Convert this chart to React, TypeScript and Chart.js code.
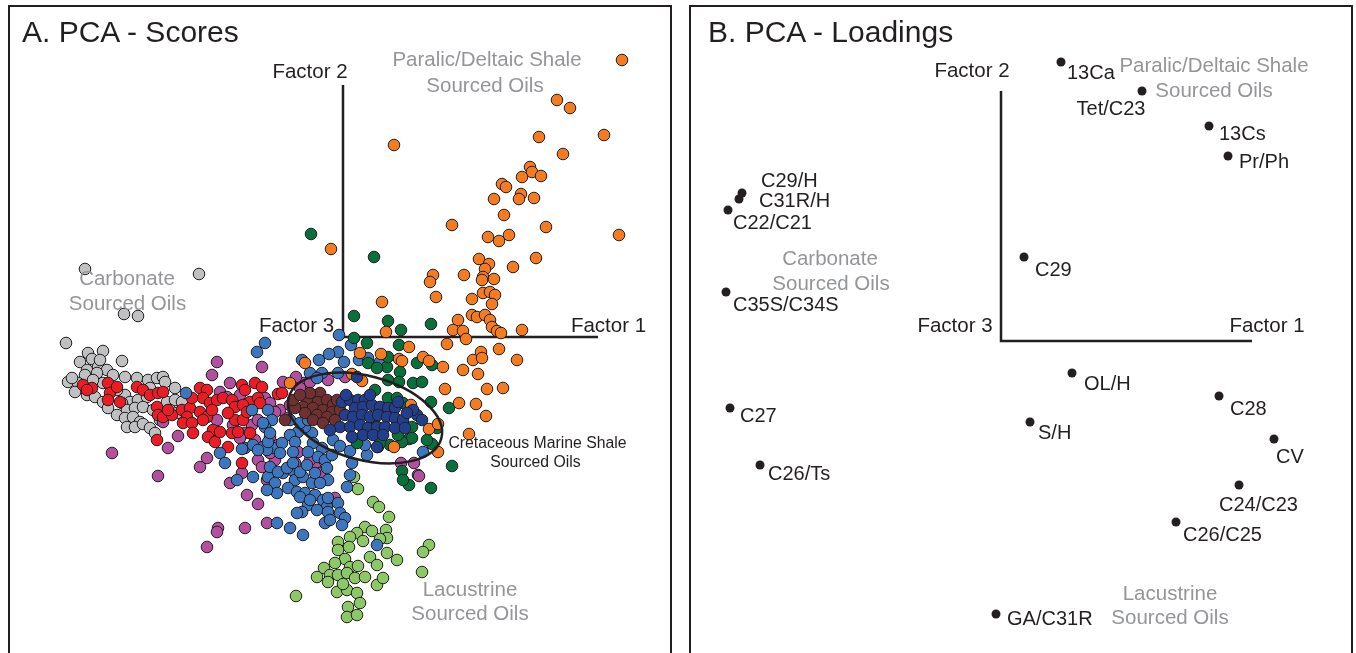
import React, { useEffect, useRef } from "react";
import { Chart, registerables } from "chart.js";

Chart.register(...registerables);

const FONT = '"Liberation Sans", Arial, Helvetica, sans-serif';
const INK = "#231f20";
const GRAY_TEXT = "#939598";

// ---------- Panel A: PCA scores (Factor 1 = x, Factor 2 = y) ----------
const paralicDeltaicScores: number[][] = [
  [2.79, 2.77], [2.14, 2.37], [2.27, 2.29], [1.96, 2.0], [2.61, 2.02], [0.51, 1.92], [2.2, 1.83],
  [1.87, 1.7], [1.89, 1.65], [1.79, 1.6], [1.98, 1.61], [1.59, 1.53], [1.63, 1.5], [1.78, 1.43],
  [1.51, 1.38], [1.76, 1.38], [1.91, 1.39], [1.61, 1.22], [1.09, 1.12], [2.03, 1.1], [2.76, 1.02],
  [1.45, 1.0], [1.56, 0.96], [1.66, 1.02], [1.93, 0.79], [1.36, 0.78], [1.46, 0.73], [1.42, 0.68],
  [1.7, 0.7], [0.9, 0.62], [0.87, 0.55], [1.21, 0.62], [1.4, 0.6], [1.39, 0.57], [1.51, 0.58],
  [0.93, 0.4], [1.29, 0.38], [1.4, 0.44], [1.47, 0.45], [1.52, 0.42], [1.49, 0.33], [1.29, 0.22],
  [1.34, 0.2], [1.42, 0.22], [1.47, 0.17], [1.49, 0.1], [1.54, 0.06], [1.58, 0.04], [1.15, 0.17],
  [1.1, 0.07], [1.2, 0.06], [1.23, -0.02], [1.79, 0.07], [1.04, -0.07], [1.38, -0.15], [1.3, -0.23],
  [1.39, -0.21], [1.56, -0.12], [1.74, -0.23], [1.0, -0.3], [1.2, -0.33], [1.35, -0.37], [0.8, -0.2],
  [0.86, -0.24], [-0.12, 0.88], [0.39, 0.35], [0.43, 0.05], [0.66, -0.1], [0.17, -0.16], [0.38, -0.17],
  [0.56, -0.22], [0.59, -0.24], [1.02, -0.52], [1.44, -0.52], [1.6, -0.51], [1.16, -0.66], [1.33, -0.67],
  [1.43, -0.79], [0.68, -0.68], [0.86, -0.92], [0.95, -0.87], [0.95, -1.15], [1.26, -0.97], [0.51, -1.1],
  [-0.53, -0.46], [-0.38, -0.26], [0.19, -0.44], [0.09, -0.37],
];

const carbonateScores: number[][] = [
  [-2.58, 0.68], [-1.44, 0.63], [-2.19, 0.23], [-2.05, 0.21], [-2.77, -0.06], [-2.55, -0.16],
  [-2.4, -0.14], [-2.63, -0.25], [-2.51, -0.22], [-2.21, -0.24], [-2.45, -0.3], [-2.36, -0.33],
  [-2.56, -0.33], [-2.46, -0.36], [-2.58, -0.38], [-2.75, -0.45], [-2.65, -0.46], [-2.4, -0.46],
  [-2.18, -0.4], [-2.06, -0.41], [-1.95, -0.43], [-1.86, -0.41], [-1.8, -0.4], [-1.78, -0.45],
  [-2.68, -0.55], [-2.56, -0.58], [-2.48, -0.6], [-2.4, -0.65], [-2.18, -0.58], [-2.26, -0.53],
  [-2.13, -0.65], [-2.05, -0.63], [-1.96, -0.6], [-2.21, -0.66], [-2.35, -0.71], [-2.16, -0.73],
  [-2.08, -0.71], [-2.0, -0.7], [-2.26, -0.78], [-2.18, -0.81], [-2.1, -0.8], [-2.03, -0.85],
  [-2.16, -0.9], [-2.08, -0.9], [-2.0, -0.87], [-1.93, -0.91], [-1.88, -0.96], [-1.68, -0.51],
  [-1.76, -0.65], [-1.68, -0.63], [-1.61, -0.65], [-1.73, -0.73], [-1.66, -0.76], [-1.9, -0.73],
  [-2.71, -0.41], [-2.5, -0.43], [-2.3, -0.38], [-2.43, -0.23], [-1.93, -0.51], [-1.83, -0.83],
];

const redScores: number[][] = [
  [-2.6, -0.48], [-2.51, -0.51], [-2.56, -0.53], [-2.35, -0.46], [-2.33, -0.56], [-2.26, -0.5],
  [-2.35, -0.63], [-2.23, -0.65], [-2.06, -0.5], [-2.0, -0.53], [-1.93, -0.58], [-1.85, -0.56],
  [-1.8, -0.55], [-1.86, -0.7], [-1.85, -0.78], [-1.8, -0.8], [-1.71, -0.78], [-1.75, -0.73],
  [-1.61, -0.73], [-1.53, -0.71], [-1.56, -0.8], [-1.6, -0.86], [-1.51, -0.86], [-1.5, -0.96],
  [-1.43, -0.75], [-1.36, -0.8], [-1.4, -0.83], [-1.86, -1.03], [-1.43, -0.51], [-1.36, -0.53],
  [-1.4, -0.61], [-1.33, -0.66], [-1.26, -0.63], [-1.2, -0.61], [-1.3, -0.93], [-1.35, -1.0],
  [-1.28, -1.05], [-1.23, -0.95], [-0.88, -0.46], [-0.81, -0.5], [-1.01, -0.48], [-0.98, -0.53],
  [-1.11, -0.63], [-0.93, -0.65], [-0.85, -0.61], [-0.65, -0.57], [-1.08, -0.7], [-1.0, -0.68],
  [-1.08, -0.83], [-1.0, -0.83], [-1.11, -0.96], [-1.01, -1.26], [-1.15, -1.1], [-1.05, -0.95],
  [-0.93, -0.96], [-1.15, -0.76], [-0.96, -0.75], [-0.83, -0.66], [-0.61, -0.56], [-1.51, -0.61],
  [-1.31, -0.73],
];

const magentaScores: number[][] = [
  [-1.26, -0.25], [-0.81, -0.3], [-1.13, -0.46], [-1.23, -0.55], [-0.6, -0.45], [-1.65, -0.99],
  [-1.75, -1.11], [-2.31, -1.16], [-1.36, -1.21], [-1.43, -1.3], [-1.8, -0.85], [-1.85, -1.39],
  [-1.1, -0.88], [-0.98, -0.96], [-1.13, -1.46], [-0.96, -1.58], [-0.85, -1.67], [-1.25, -1.91],
  [-1.26, -1.95], [-0.98, -1.91], [-0.76, -1.86], [-0.26, -1.38], [-0.28, -1.3], [-0.85, -1.23],
  [-0.68, -1.23], [-0.73, -1.16], [-1.36, -2.1], [-1.01, -1.36], [-0.81, -1.3], [-0.76, -1.43],
  [-0.15, -0.43], [0.02, -0.4], [-0.65, -1.08], [-0.08, -1.61], [0.75, -1.38], [0.58, -1.26],
  [0.71, -1.26], [0.76, -1.39], [-0.39, -0.46], [-0.47, -0.4], [-1.31, -0.38], [-1.03, -0.58],
  [-0.78, -0.61], [-0.91, -0.88], [-0.73, -1.0], [-0.88, -1.03], [-0.63, -0.73], [-0.55, -0.81],
  [-0.43, -0.51], [-0.33, -0.45], [-0.53, -0.68], [-0.73, -0.66], [-0.68, -0.75], [-0.85, -0.83],
  [-1.03, -1.01], [-0.48, -1.26], [-0.45, -1.15], [-0.33, -1.23], [-0.23, -1.36], [-1.26, -0.83],
  [-1.16, -0.6],
];

const blueScores: number[][] = [
  [-0.04, 0.02], [0.08, -0.08], [-0.05, -0.15], [-0.14, -0.17], [-0.24, -0.23], [-0.41, -0.23],
  [0.16, -0.23], [0.37, -0.25], [0.01, -0.25], [-0.33, -0.36], [-0.21, -0.36], [-0.05, -0.36],
  [0.25, -0.21], [-0.78, -0.06], [-0.86, -0.15], [-0.26, -0.41], [-1.57, -0.56], [-1.23, -1.16],
  [-1.18, -1.26], [-0.1, -1.03], [-0.03, -1.09], [0.07, -1.14], [0.24, -1.18], [0.09, -1.26],
  [-0.21, -1.11], [-0.31, -0.96], [-0.38, -0.9], [-0.3, -1.06], [-0.45, -0.95], [-0.53, -0.98],
  [-0.48, -1.05], [-0.25, -1.2], [-0.35, -1.15], [-0.18, -1.23], [-0.75, -0.73], [-0.91, -0.73],
  [-0.71, -0.83], [-0.78, -0.9], [-0.98, -1.11], [-0.9, -1.08], [-0.8, -1.1], [-0.7, -1.11],
  [-0.61, -1.06], [-0.63, -1.16], [-1.06, -1.43], [-0.9, -1.4], [-0.75, -1.4], [-0.68, -1.46],
  [-0.6, -1.36], [-0.51, -1.33], [-0.48, -1.43], [-0.4, -1.4], [-0.31, -1.46], [-0.55, -1.51],
  [-0.46, -1.55], [-0.38, -1.56], [-0.66, -1.56], [-0.76, -1.53], [-0.28, -1.58], [-0.2, -1.63],
  [-0.16, -1.7], [-0.35, -1.68], [-0.26, -1.73], [-0.41, -1.75], [-0.66, -1.86], [-0.53, -1.91],
  [-0.18, -1.86], [-0.4, -1.98], [-0.76, -1.13], [-0.5, -1.15], [-0.73, -1.3], [-0.65, -1.35],
  [-0.56, -1.31], [-0.5, -1.26], [-0.43, -1.35], [-0.36, -1.28], [-0.28, -1.36], [-0.16, -1.31],
  [-0.15, -1.43], [-0.23, -1.46], [-0.43, -1.6], [-0.33, -1.63], [-0.15, -1.61], [-0.05, -1.66],
  [-0.46, -1.76], [-0.15, -1.75], [-0.03, -1.76], [-0.13, -1.83], [0.02, -1.81], [-0.01, -1.88],
  [0.07, -1.38], [0.04, -1.5], [0.22, -1.08], [-0.11, -1.18], [0.35, -1.1], [0.8, -1.15],
  [0.34, -2.08], [-1.01, -1.12], [-0.85, -1.13], [-0.75, -1.05], [-0.73, -0.96], [-0.8, -0.86],
  [-0.53, -0.83], [-0.43, -0.86], [-0.35, -0.83],
];

const cretaceousMarineScores: number[][] = [
  [-0.01, -0.65], [0.07, -0.63], [0.15, -0.63], [0.22, -0.63], [0.12, -0.71], [0.2, -0.7],
  [0.29, -0.68], [0.37, -0.7], [0.45, -0.71], [0.52, -0.71], [0.02, -0.78], [0.1, -0.8],
  [0.19, -0.78], [0.27, -0.8], [0.35, -0.78], [0.44, -0.8], [0.52, -0.81], [0.6, -0.83],
  [-0.03, -0.9], [0.07, -0.9], [0.17, -0.88], [0.25, -0.91], [0.34, -0.9], [0.42, -0.9],
  [0.52, -0.91], [0.62, -0.91], [0.09, -1.0], [0.2, -0.98], [0.3, -0.98], [0.4, -0.98],
  [0.34, -1.1], [-0.13, -0.93], [0.74, -0.78], [0.79, -0.83], [0.7, -0.73], [0.14, -0.4],
  [0.55, -0.65], [0.64, -0.76], [0.03, -0.58], [0.27, -0.58],
];

const brownScores: number[][] = [
  [-0.23, -0.56], [-0.35, -0.63], [-0.25, -0.65], [-0.16, -0.63], [-0.1, -0.68], [-0.4, -0.7],
  [-0.3, -0.71], [-0.2, -0.73], [-0.11, -0.75], [-0.48, -0.71], [-0.38, -0.76], [-0.26, -0.78],
  [-0.16, -0.8], [-0.08, -0.83], [-0.58, -0.83], [-0.5, -0.63], [-0.03, -0.73], [-0.06, -0.63],
  [-0.3, -0.83], [-0.2, -0.86], [-0.33, -0.56], [-0.43, -0.58],
];

const greenScores: number[][] = [
  [-0.32, 1.03], [0.31, 0.8], [0.11, 0.21], [0.45, 0.16], [0.58, 0.07], [0.88, 0.13], [0.11, -0.01],
  [0.24, -0.06], [0.56, -0.08], [0.74, -0.26], [0.89, -0.28], [0.44, -0.3], [0.57, -0.35],
  [0.45, -0.2], [0.56, -0.45], [0.7, -0.46], [0.79, -0.45], [0.32, -0.53], [0.88, -0.65],
  [1.06, -0.71], [0.66, -1.02], [0.89, -1.07], [0.59, -1.34], [0.66, -1.48], [0.88, -1.51],
  [1.09, -1.29], [0.25, -0.26], [0.34, -0.31], [0.45, -0.43], [0.45, -0.61], [0.54, -0.61],
  [0.6, -0.66], [0.65, -0.7], [0.69, -0.9], [0.69, -1.01], [0.59, -1.05], [0.47, -1.08],
  [0.37, -1.06], [0.22, -0.96], [0.94, -0.91], [0.84, -1.03], [0.6, -1.43], [0.32, -0.88],
  [0.55, -0.98], [0.14, -1.06],
];

const lacustrineScores: number[][] = [
  [0.11, -1.4], [0.15, -1.52], [0.3, -1.65], [0.36, -1.7], [0.46, -1.8], [0.22, -1.9], [0.29, -1.94],
  [0.43, -1.93], [0.14, -1.96], [0.07, -2.0], [0.2, -2.04], [0.44, -2.01], [0.37, -2.02],
  [-0.05, -2.05], [0.06, -2.1], [0.44, -2.16], [0.86, -2.08], [0.8, -2.15], [0.27, -2.2],
  [0.54, -2.23], [-0.05, -2.13], [0.02, -2.22], [-0.08, -2.26], [0.07, -2.3], [0.15, -2.29],
  [0.34, -2.28], [-0.19, -2.31], [-0.26, -2.4], [-0.13, -2.38], [-0.05, -2.38], [0.04, -2.36],
  [0.12, -2.41], [0.22, -2.4], [0.34, -2.48], [0.4, -2.41], [-0.15, -2.45], [-0.06, -2.55],
  [0.04, -2.53], [0.14, -2.56], [0.17, -2.66], [0.05, -2.7], [0.04, -2.8], [0.14, -2.78],
  [0.79, -2.35], [-0.47, -2.59], [0.0, -2.47],
];

// draw order: first = on top
const scoreSeries = [
  { label: "Cretaceous Marine Shale", data: cretaceousMarineScores, color: "#223f8f" },
  { label: "Group brown", data: brownScores, color: "#70302f" },
  { label: "Paralic/Deltaic Shale", data: paralicDeltaicScores, color: "#f47b20" },
  { label: "Group dark green", data: greenScores, color: "#08703a" },
  { label: "Group blue", data: blueScores, color: "#3b76be" },
  { label: "Lacustrine", data: lacustrineScores, color: "#8dc866" },
  { label: "Group red", data: redScores, color: "#ed1c24" },
  { label: "Group magenta", data: magentaScores, color: "#b24f9f" },
  { label: "Carbonate", data: carbonateScores, color: "#bfc0c2" },
];

// ---------- Panel B: PCA loadings ----------
const loadingNames = [
  "13Ca", "Tet/C23", "13Cs", "Pr/Ph", "C29/H", "C31R/H", "C22/C21", "C35S/C34S", "C29",
  "OL/H", "C28", "C27", "S/H", "CV", "C26/Ts", "C24/C23", "C26/C25", "GA/C31R",
];
const loadingF1 = [
  0.6, 1.41, 2.08, 2.27, -2.59, -2.62, -2.73, -2.75, 0.23,
  0.71, 2.18, -2.71, 0.29, 2.73, -2.41, 2.38, 1.75, -0.05,
];
const loadingF2 = [
  2.79, 2.5, 2.15, 1.85, 1.48, 1.42, 1.31, 0.49, 0.84,
  -0.32, -0.55, -0.67, -0.81, -0.98, -1.24, -1.44, -1.81, -2.73,
];
// label placement relative to its dot (layout only)
const loadingLabelPlacement: [number, number, CanvasTextAlign][] = [
  [6, 11, "left"], [-31, 18, "center"], [10, 8, "left"], [11, 6, "left"], [19, -12, "left"],
  [20, 2, "left"], [5, 13, "left"], [7, 13, "left"], [11, 13, "left"], [12, 11, "left"],
  [11, 13, "left"], [10, 8, "left"], [8, 11, "left"], [2, 18, "left"], [8, 9, "left"],
  [-20, 20, "left"], [7, 13, "left"], [11, 5, "left"],
];

type Note = { text: string; x: number; y: number; color: string; size: number; align?: CanvasTextAlign };

const scoreNotes: Note[] = [
  { text: "Factor 2", x: -0.33, y: 2.65, color: INK, size: 20.5 },
  { text: "Factor 3", x: -0.465, y: 0.11, color: INK, size: 20.5 },
  { text: "Factor 1", x: 2.655, y: 0.11, color: INK, size: 20.5 },
  { text: "Paralic/Deltaic Shale", x: 1.44, y: 2.77, color: GRAY_TEXT, size: 20.5 },
  { text: "Sourced Oils", x: 1.42, y: 2.51, color: GRAY_TEXT, size: 20.5 },
  { text: "Carbonate", x: -2.16, y: 0.58, color: GRAY_TEXT, size: 20.5 },
  { text: "Sourced Oils", x: -2.155, y: 0.33, color: GRAY_TEXT, size: 20.5 },
  { text: "Lacustrine", x: 1.27, y: -2.53, color: GRAY_TEXT, size: 20.5 },
  { text: "Sourced Oils", x: 1.27, y: -2.77, color: GRAY_TEXT, size: 20.5 },
  { text: "Cretaceous Marine Shale", x: 1.945, y: -1.07, color: INK, size: 15.8 },
  { text: "Sourced Oils", x: 1.925, y: -1.26, color: INK, size: 15.8 },
];

const loadingNotes: Note[] = [
  { text: "Factor 2", x: -0.29, y: 2.7, color: INK, size: 20.5 },
  { text: "Factor 3", x: -0.46, y: 0.15, color: INK, size: 20.5 },
  { text: "Factor 1", x: 2.66, y: 0.15, color: INK, size: 20.5 },
  { text: "Paralic/Deltaic Shale", x: 2.13, y: 2.75, color: GRAY_TEXT, size: 20.5 },
  { text: "Sourced Oils", x: 2.13, y: 2.5, color: GRAY_TEXT, size: 20.5 },
  { text: "Carbonate", x: -1.71, y: 0.82, color: GRAY_TEXT, size: 20.5 },
  { text: "Sourced Oils", x: -1.7, y: 0.57, color: GRAY_TEXT, size: 20.5 },
  { text: "Lacustrine", x: 1.69, y: -2.53, color: GRAY_TEXT, size: 20.5 },
  { text: "Sourced Oils", x: 1.69, y: -2.77, color: GRAY_TEXT, size: 20.5 },
];

// axis arms (data units) and the Cretaceous ellipse
const scoreAxisArms = { f2Top: 2.52, f1Right: 2.55 };
const loadingAxisArms = { f2Top: 2.5, f1Right: 2.51 };
const cretaceousEllipse = { cx: 0.22, cy: -0.81, a: 0.79, b: 0.42, angleDeg: 15 };

function drawAxes(chart: any, arms: { f2Top: number; f1Right: number }) {
  const { ctx, scales } = chart;
  const x = scales.x;
  const y = scales.y;
  ctx.save();
  ctx.strokeStyle = INK;
  ctx.lineWidth = 2.5;
  ctx.lineJoin = "miter";
  ctx.beginPath();
  ctx.moveTo(x.getPixelForValue(0), y.getPixelForValue(arms.f2Top));
  ctx.lineTo(x.getPixelForValue(0), y.getPixelForValue(0));
  ctx.lineTo(x.getPixelForValue(arms.f1Right), y.getPixelForValue(0));
  ctx.stroke();
  ctx.restore();
}

function drawNotes(chart: any, notes: Note[]) {
  const { ctx, scales } = chart;
  ctx.save();
  ctx.textBaseline = "middle";
  for (const n of notes) {
    ctx.font = `${n.size}px ${FONT}`;
    ctx.fillStyle = n.color;
    ctx.textAlign = n.align || "center";
    ctx.fillText(n.text, scales.x.getPixelForValue(n.x), scales.y.getPixelForValue(n.y));
  }
  ctx.restore();
}

const scoresDecor = {
  id: "scoresDecor",
  beforeDatasetsDraw(chart: any) {
    drawAxes(chart, scoreAxisArms);
  },
  afterDatasetsDraw(chart: any) {
    const { ctx, scales } = chart;
    const x = scales.x;
    const y = scales.y;
    const e = cretaceousEllipse;
    const cx = x.getPixelForValue(e.cx);
    const cy = y.getPixelForValue(e.cy);
    const rx = Math.abs(x.getPixelForValue(e.cx + e.a) - cx);
    const ry = Math.abs(y.getPixelForValue(e.cy + e.b) - cy);
    ctx.save();
    ctx.strokeStyle = INK;
    ctx.lineWidth = 2.5;
    ctx.beginPath();
    ctx.ellipse(cx, cy, rx, ry, (e.angleDeg * Math.PI) / 180, 0, Math.PI * 2);
    ctx.stroke();
    ctx.restore();
    drawNotes(chart, scoreNotes);
  },
};

const loadingsDecor = {
  id: "loadingsDecor",
  beforeDatasetsDraw(chart: any) {
    drawAxes(chart, loadingAxisArms);
  },
  afterDatasetsDraw(chart: any) {
    const { ctx, scales } = chart;
    ctx.save();
    ctx.font = `20px ${FONT}`;
    ctx.fillStyle = INK;
    ctx.textBaseline = "middle";
    loadingNames.forEach((name, i) => {
      const [dx, dy, align] = loadingLabelPlacement[i];
      ctx.textAlign = align;
      ctx.fillText(
        name,
        scales.x.getPixelForValue(loadingF1[i]) + dx,
        scales.y.getPixelForValue(loadingF2[i]) + dy
      );
    });
    ctx.restore();
    drawNotes(chart, loadingNotes);
  },
};

const CANVAS_W = 660;
const CANVAS_H = 646;

function baseOptions(xMin: number, xMax: number, yMin: number, yMax: number) {
  return {
    responsive: false,
    maintainAspectRatio: false,
    animation: false as const,
    devicePixelRatio: 1,
    events: [] as any[],
    layout: { padding: 0, autoPadding: false },
    plugins: {
      legend: { display: false },
      tooltip: { enabled: false },
      title: { display: false },
    },
    scales: {
      x: { type: "linear" as const, min: xMin, max: xMax, display: false },
      y: { type: "linear" as const, min: yMin, max: yMax, display: false },
    },
  };
}

export default function App() {
  const scoresRef = useRef<HTMLCanvasElement | null>(null);
  const loadingsRef = useRef<HTMLCanvasElement | null>(null);

  useEffect(() => {
    if (!scoresRef.current || !loadingsRef.current) return;
    const scoresChart = new Chart(scoresRef.current, {
      type: "scatter",
      data: {
        datasets: scoreSeries.map((s) => ({
          label: s.label,
          data: s.data.map(([fx, fy]) => ({ x: fx, y: fy })),
          pointBackgroundColor: s.color,
          pointBorderColor: INK,
          pointBorderWidth: 1,
          pointRadius: 5.8,
          backgroundColor: s.color,
          borderColor: INK,
          showLine: false,
          clip: false as any,
        })),
      },
      options: baseOptions(-3.33, 3.27, -3.16, 3.3) as any,
      plugins: [scoresDecor],
    });
    const loadingsChart = new Chart(loadingsRef.current, {
      type: "scatter",
      data: {
        datasets: [
          {
            label: "Loadings",
            data: loadingF1.map((v, i) => ({ x: v, y: loadingF2[i] })),
            pointBackgroundColor: INK,
            pointBorderColor: INK,
            pointBorderWidth: 0,
            pointRadius: 4.5,
            showLine: false,
            clip: false as any,
          },
        ],
      },
      options: baseOptions(-3.1, 3.5, -3.12, 3.34) as any,
      plugins: [loadingsDecor],
    });
    return () => {
      scoresChart.destroy();
      loadingsChart.destroy();
    };
  }, []);

  const boxStyle = (left: number): React.CSSProperties => ({
    position: "absolute",
    left,
    top: 5,
    width: CANVAS_W,
    height: 700,
    border: `2px solid ${INK}`,
    background: "#fff",
  });
  const canvasStyle: React.CSSProperties = {
    position: "absolute",
    left: 0,
    top: 0,
    width: CANVAS_W,
    height: CANVAS_H,
    display: "block",
  };
  const titleStyle = (left: number): React.CSSProperties => ({
    position: "absolute",
    left,
    top: 17,
    fontFamily: FONT,
    fontSize: 30,
    lineHeight: "30px",
    color: INK,
    whiteSpace: "nowrap",
  });

  return (
    <div
      style={{
        position: "fixed",
        left: 0,
        top: 0,
        width: 1356,
        height: 653,
        overflow: "hidden",
        background: "#fff",
      }}
    >
      <div style={boxStyle(8)}>
        <canvas ref={scoresRef} width={CANVAS_W} height={CANVAS_H} style={canvasStyle} />
      </div>
      <div style={boxStyle(689)}>
        <canvas ref={loadingsRef} width={CANVAS_W} height={CANVAS_H} style={canvasStyle} />
      </div>
      <div style={titleStyle(22)}>A. PCA - Scores</div>
      <div style={titleStyle(708)}>B. PCA - Loadings</div>
    </div>
  );
}
